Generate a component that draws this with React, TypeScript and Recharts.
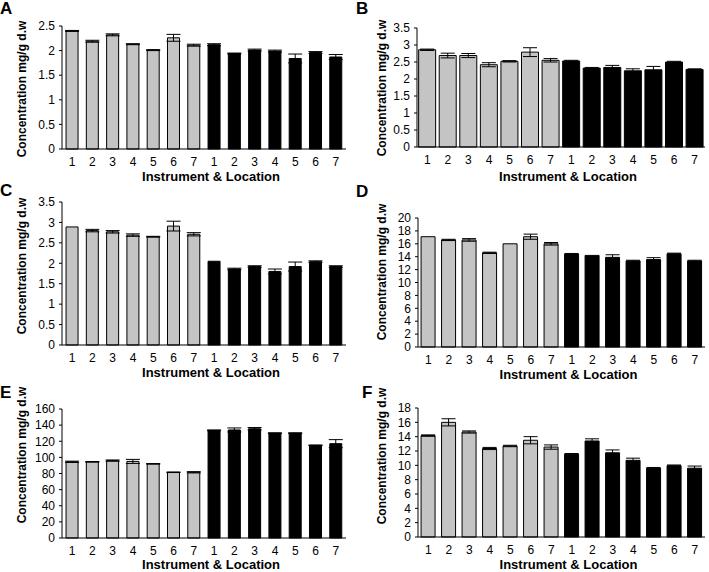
import React from 'react';
import { BarChart, Bar, Cell, XAxis, YAxis, ErrorBar } from 'recharts';

const categories = ['1', '2', '3', '4', '5', '6', '7', '1', '2', '3', '4', '5', '6', '7'];

const aValues = [2.4, 2.19, 2.32, 2.13, 2.01, 2.26, 2.11, 2.12, 1.94, 2.01, 1.99, 1.84, 1.96, 1.87];
const aErrors = [0.01, 0.02, 0.02, 0.01, 0.01, 0.07, 0.02, 0.02, 0.01, 0.02, 0.02, 0.09, 0.02, 0.05];
const aTicks = [0, 0.5, 1, 1.5, 2, 2.5];

const bValues = [2.86, 2.69, 2.69, 2.42, 2.52, 2.79, 2.55, 2.53, 2.32, 2.34, 2.24, 2.27, 2.5, 2.28];
const bErrors = [0.02, 0.07, 0.06, 0.06, 0.02, 0.13, 0.05, 0.02, 0.02, 0.06, 0.06, 0.1, 0.02, 0.02];
const bTicks = [0, 0.5, 1, 1.5, 2, 2.5, 3, 3.5];

const cValues = [2.89, 2.8, 2.77, 2.69, 2.65, 2.91, 2.71, 2.05, 1.86, 1.92, 1.8, 1.92, 2.04, 1.92];
const cErrors = [0, 0.03, 0.03, 0.03, 0.01, 0.12, 0.04, 0, 0.02, 0.02, 0.06, 0.11, 0.02, 0.02];
const cTicks = [0, 0.5, 1, 1.5, 2, 2.5, 3, 3.5];

const dValues = [17.1, 16.6, 16.6, 14.6, 16.0, 17.1, 16.0, 14.4, 14.2, 13.9, 13.35, 13.55, 14.45, 13.35];
const dErrors = [0, 0.1, 0.2, 0.1, 0, 0.4, 0.2, 0.1, 0, 0.4, 0.1, 0.3, 0.1, 0.1];
const dTicks = [0, 2, 4, 6, 8, 10, 12, 14, 16, 18, 20];

const eValues = [94.5, 94.5, 96, 95, 92, 81.5, 81.5, 133.5, 134, 135.5, 130, 130, 115, 117];
const eErrors = [0.8, 0.3, 0.8, 2.5, 0.3, 0.3, 0.8, 0.5, 2.5, 1.5, 0.5, 0.5, 0.3, 5];
const eTicks = [0, 20, 40, 60, 80, 100, 120, 140, 160];

const fValues = [14.15, 16.0, 14.65, 12.35, 12.7, 13.5, 12.55, 11.55, 13.4, 11.75, 10.7, 9.6, 9.95, 9.6];
const fErrors = [0.1, 0.5, 0.15, 0.15, 0.1, 0.5, 0.3, 0.1, 0.3, 0.4, 0.3, 0.1, 0.1, 0.3];
const fTicks = [0, 2, 4, 6, 8, 10, 12, 14, 16, 18];

const yTitle = 'Concentration mg/g d.w';
const xTitle = 'Instrument & Location';
const font = '"Liberation Sans", Arial, sans-serif';

type Box = { x: number; y: number; w: number; h: number };
type Plot = { l: number; t: number; r: number; b: number };

interface PanelProps {
	letter: string;
	values: number[];
	errors: number[];
	ticks: number[];
	box: Box;
	plot: Plot;
	gap: string;
	letterPos: [number, number];
	yTitlePos: [number, number];
	titleOffset: number;
}

function Panel({ letter, values, errors, ticks, box, plot, gap, letterPos, yTitlePos, titleOffset }: PanelProps) {
	const data = categories.map((c, i) => ({ label: c, value: values[i], err: errors[i] }));
	const xAxisHeight = box.y + box.h - plot.b;

	return (
		<>
			<div style={{ position: 'absolute', left: box.x, top: box.y }}>
				<BarChart
					width={box.w}
					height={box.h}
					data={data}
					barCategoryGap={gap}
					margin={{ top: plot.t - box.y, right: box.x + box.w - plot.r, bottom: 0, left: 0 }}
				>
					<XAxis
						dataKey='label'
						interval={0}
						tickLine={false}
						tickSize={4}
						tickMargin={4}
						height={xAxisHeight}
						axisLine={{ stroke: '#000' }}
						tick={{ fontSize: 12, fill: '#000', fontFamily: font }}
						label={{
							value: xTitle,
							position: 'insideBottom',
							offset: titleOffset,
							dx: 7,
							style: { fontSize: 13, fontWeight: 'bold', fill: '#000', fontFamily: font },
						}}
					/>
					<YAxis
						type='number'
						domain={[ticks[0], ticks[ticks.length - 1]]}
						ticks={ticks}
						interval={0}
						width={plot.l - box.x}
						tickSize={3}
						tickMargin={4}
						axisLine={{ stroke: '#000' }}
						tickLine={{ stroke: '#000' }}
						tick={{ fontSize: 12, fill: '#000', fontFamily: font }}
					/>
					<Bar dataKey='value' stroke='#000' strokeWidth={1} isAnimationActive={false}>
						{data.map((d, i) => (
							<Cell key={`cell-${i}`} fill={i < 7 ? '#c4c4c4' : '#000'} />
						))}
						<ErrorBar dataKey='err' width={7} stroke='#000' strokeWidth={1} direction='y' />
					</Bar>
				</BarChart>
			</div>
			<div
				style={{
					position: 'absolute',
					left: letterPos[0],
					top: letterPos[1],
					fontFamily: font,
					fontWeight: 'bold',
					fontSize: 17,
					lineHeight: '17px',
				}}
			>
				{letter}
			</div>
			<div
				style={{
					position: 'absolute',
					left: yTitlePos[0],
					top: yTitlePos[1],
					transform: 'translate(-50%, -50%) rotate(-90deg)',
					whiteSpace: 'nowrap',
					fontFamily: font,
					fontWeight: 'bold',
					fontSize: 12,
					lineHeight: '12px',
				}}
			>
				{yTitle}
			</div>
		</>
	);
}

export default function App() {
	return (
		<div style={{ position: 'absolute', left: 0, top: 0, width: 709, height: 572, background: '#fff', overflow: 'hidden' }}>
			<Panel letter='E' values={eValues} errors={eErrors} ticks={eTicks} gap='20%'
				box={{ x: 0, y: 380, w: 355, h: 192 }} plot={{ l: 62, t: 409, r: 346, b: 538 }}
				letterPos={[0, 384]} yTitlePos={[22, 455]} titleOffset={3} />
			<Panel letter='F' values={fValues} errors={fErrors} ticks={fTicks} gap='15%'
				box={{ x: 355, y: 380, w: 354, h: 192 }} plot={{ l: 418, t: 408, r: 705, b: 537 }}
				letterPos={[362, 384]} yTitlePos={[382, 456]} titleOffset={3} />
			<Panel letter='C' values={cValues} errors={cErrors} ticks={cTicks} gap='20%'
				box={{ x: 0, y: 185, w: 355, h: 198 }} plot={{ l: 62, t: 202, r: 346, b: 345 }}
				letterPos={[0, 182]} yTitlePos={[22, 266]} titleOffset={6} />
			<Panel letter='D' values={dValues} errors={dErrors} ticks={dTicks} gap='15%'
				box={{ x: 355, y: 185, w: 354, h: 198 }} plot={{ l: 418, t: 218, r: 705, b: 347 }}
				letterPos={[356, 183]} yTitlePos={[382, 272]} titleOffset={4} />
			<Panel letter='A' values={aValues} errors={aErrors} ticks={aTicks} gap='20%'
				box={{ x: 0, y: 0, w: 355, h: 185 }} plot={{ l: 62, t: 26, r: 346, b: 149 }}
				letterPos={[0, 0]} yTitlePos={[22, 89]} titleOffset={4} />
			<Panel letter='B' values={bValues} errors={bErrors} ticks={bTicks} gap='8%'
				box={{ x: 355, y: 0, w: 354, h: 185 }} plot={{ l: 417, t: 28, r: 705, b: 147 }}
				letterPos={[356, 0]} yTitlePos={[382, 88]} titleOffset={4} />
		</div>
	);
}
